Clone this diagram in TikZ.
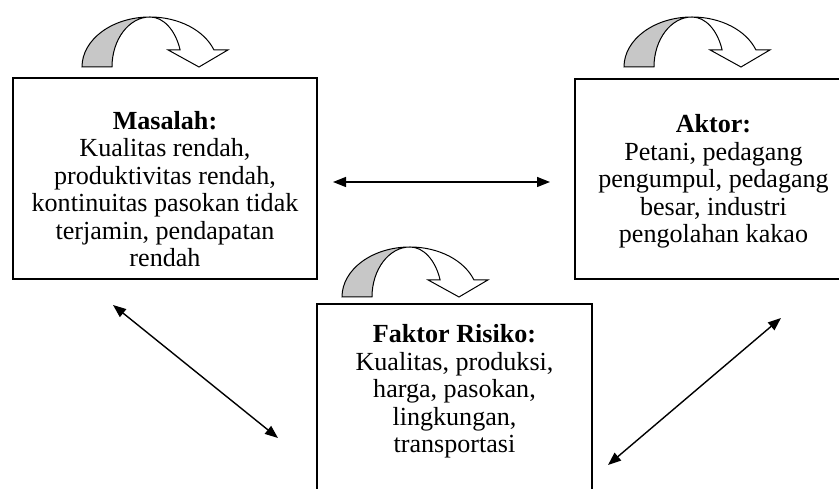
\documentclass[tikz,border=0pt]{standalone}
\usepackage{fontspec}
\setmainfont{Liberation Serif}
\usetikzlibrary{arrows.meta}
\tikzset{box/.style={draw,line width=1.2pt,inner sep=0pt},
 txt/.style={align=center,inner sep=0pt,font=\fontsize{26.1}{27.5}\selectfont},
 dbl/.style={line width=1.4pt,{Triangle[length=13pt,width=10pt]}-{Triangle[length=13pt,width=10pt]}}}
\newcommand{\putar}[2]{\begin{scope}[shift={(#1,#2)},line width=1pt]
 \filldraw[fill=black!22](-68,0) arc[start angle=180,end angle=90,x radius=68pt,y radius=50pt]
  arc[start angle=90,end angle=180,x radius=38pt,y radius=50pt]--cycle;
 \filldraw[fill=white](0,50) arc[start angle=90,end angle=20,x radius=68pt,y radius=50pt]
  --(78,17.1)--(49,0)--(18,17.1)--(30.1,17.1)
  arc[start angle=20,end angle=90,x radius=32pt,y radius=50pt]--cycle;
 \end{scope}}

\begin{document}
\begin{tikzpicture}[x=1pt,y=1pt]
\useasboundingbox (0,0) rectangle (839,489);
\clip (0,0) rectangle (839,489);
\node[box,minimum width=304pt,minimum height=201pt](mas) at(165,310.5){};
\node[box,minimum width=277pt,minimum height=200pt](akt) at(713.5,310){};
\node[box,minimum width=275pt,minimum height=230pt](fak) at(454.5,70){};
\node[txt,anchor=base](mastx) at(165,222){\textbf{Masalah:}\\Kualitas rendah,\\produktivitas rendah,\\kontinuitas pasokan tidak\\terjamin, pendapatan\\rendah};
\node[txt,anchor=base](akttx) at(713.5,246){\textbf{Aktor:}\\Petani, pedagang\\pengumpul, pedagang\\besar, industri\\pengolahan kakao};
\node[txt,anchor=base](faktx) at(454.5,36){\textbf{Faktor Risiko:}\\Kualitas, produksi,\\harga, pasokan,\\lingkungan,\\transportasi};
% siklus
\putar{150}{422}
\putar{692}{422}
\putar{410}{192}
% hubungan
\coordinate(ma) at(333,307);
\coordinate(ak) at(550,307);
\coordinate(ms) at(113,184);
\coordinate(fl) at(278,51);
\coordinate(fr) at(608,24);
\coordinate(as) at(781,171);
\draw[dbl](ma)--(ak);
\draw[dbl](ms)--(fl);
\draw[dbl](fr)--(as);
\end{tikzpicture}
\end{document}
